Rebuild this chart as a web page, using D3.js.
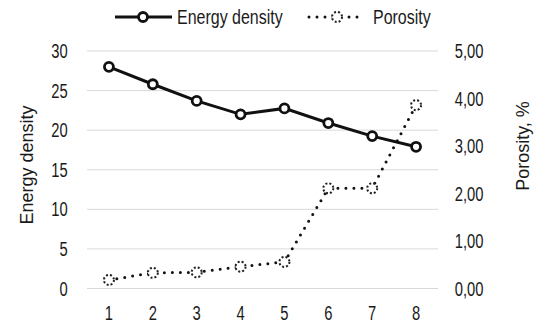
<!DOCTYPE html>
<html>
<head>
<meta charset="utf-8">
<script src="https://cdn.jsdelivr.net/npm/d3@7"></script>
<style>
  body { margin: 0; background: #fff; }
  text { font-family: 'Liberation Sans', Arial, sans-serif; fill: #1a1a1a; }
</style>
</head>
<body>
<svg width="537" height="324"></svg>
<script>
const categories = [1, 2, 3, 4, 5, 6, 7, 8]
const energyDensity = [28.0, 25.8, 23.7, 22.0, 22.75, 20.9, 19.25, 17.9]
const porosity = [0.18, 0.33, 0.34, 0.46, 0.56, 2.11, 2.11, 3.86]
const leftTicks = [0, 5, 10, 15, 20, 25, 30]
const rightTicks = [0, 1, 2, 3, 4, 5]

const svg = d3.select('svg')
const plotLeft = 87, plotRight = 438, plotTop = 51, plotBottom = 288.5
const narrow = 'scale(0.72,1)' // squeeze to look like Arial Narrow
const labelSize = 20.5

const x = d3.scaleBand().domain(categories).range([plotLeft, plotRight])
const yL = d3.scaleLinear().domain([0, 30]).range([plotBottom, plotTop])
const yR = d3.scaleLinear().domain([0, 5]).range([plotBottom, plotTop])
const cx = d => x(d) + x.bandwidth() / 2

// gridlines
svg.append('g')
  .selectAll('line')
  .data(leftTicks)
  .enter()
  .append('line')
  .attr('x1', plotLeft).attr('x2', plotRight)
  .attr('y1', d => yL(d)).attr('y2', d => yL(d))
  .attr('stroke', '#d9d9d9').attr('stroke-width', 1)

// left axis
const axL = svg.append('g')
  .attr('transform', 'translate(72,0)')
  .call(d3.axisLeft(yL).tickValues(leftTicks).tickSize(0).tickPadding(6))
axL.select('.domain').remove()
axL.attr('font-family', null)
axL.selectAll('text').attr('font-size', labelSize).attr('transform', narrow)

// right axis
const axR = svg.append('g')
  .attr('transform', 'translate(450.5,0)')
  .call(d3.axisRight(yR).tickValues(rightTicks).tickSize(0).tickPadding(6)
    .tickFormat(d => d3.format('.2f')(d).replace('.', ',')))
axR.select('.domain').remove()
axR.attr('font-family', null)
axR.selectAll('text').attr('font-size', labelSize).attr('transform', narrow)

// bottom axis
const axB = svg.append('g')
  .attr('transform', `translate(0,${plotBottom})`)
  .call(d3.axisBottom(x).tickSize(0).tickPadding(17))
axB.select('.domain').remove()
axB.attr('font-family', null)
axB.selectAll('text').attr('font-size', labelSize).attr('transform', narrow)

// axis titles
svg.append('text')
  .attr('transform', 'translate(33,165) rotate(-90)')
  .attr('text-anchor', 'middle')
  .attr('font-size', 18)
  .text('Energy density')

svg.append('text')
  .attr('transform', 'translate(529,146) rotate(-90)')
  .attr('text-anchor', 'middle')
  .attr('font-size', 18)
  .text('Porosity, %')

// porosity line
const porLine = d3.line().x((d, i) => cx(categories[i])).y(d => yR(d))
svg.append('path')
  .datum(porosity)
  .attr('d', porLine)
  .attr('fill', 'none')
  .attr('stroke', '#111')
  .attr('stroke-width', 3)
  .attr('stroke-linecap', 'round')
  .attr('stroke-dasharray', '0 8')

svg.append('g')
  .selectAll('circle')
  .data(porosity)
  .enter()
  .append('circle')
  .attr('cx', (d, i) => cx(categories[i]))
  .attr('cy', d => yR(d))
  .attr('r', 5)
  .attr('fill', '#fff')
  .attr('stroke', '#222')
  .attr('stroke-width', 2)
  .attr('stroke-dasharray', '2 2')

// energy line
const enLine = d3.line().x((d, i) => cx(categories[i])).y(d => yL(d))
svg.append('path')
  .datum(energyDensity)
  .attr('d', enLine)
  .attr('fill', 'none')
  .attr('stroke', '#111')
  .attr('stroke-width', 3)

svg.append('g')
  .selectAll('circle')
  .data(energyDensity)
  .enter()
  .append('circle')
  .attr('cx', (d, i) => cx(categories[i]))
  .attr('cy', d => yL(d))
  .attr('r', 4.5)
  .attr('fill', '#fff')
  .attr('stroke', '#111')
  .attr('stroke-width', 2.8)

// legend
const lg = svg.append('g')
lg.append('line').attr('x1', 115).attr('x2', 172).attr('y1', 17).attr('y2', 17)
  .attr('stroke', '#111').attr('stroke-width', 3)
lg.append('circle').attr('cx', 143).attr('cy', 17).attr('r', 4.5)
  .attr('fill', '#fff').attr('stroke', '#111').attr('stroke-width', 2.8)
lg.append('text').attr('transform', 'translate(177,24) scale(0.78,1)')
  .attr('font-size', labelSize).text('Energy density')

lg.append('line').attr('x1', 309).attr('x2', 365).attr('y1', 17).attr('y2', 17)
  .attr('stroke', '#111').attr('stroke-width', 3)
  .attr('stroke-linecap', 'round').attr('stroke-dasharray', '0 8')
lg.append('circle').attr('cx', 337).attr('cy', 17).attr('r', 5)
  .attr('fill', '#fff').attr('stroke', '#222').attr('stroke-width', 2)
  .attr('stroke-dasharray', '2 2')
lg.append('text').attr('transform', 'translate(373,24) scale(0.78,1)')
  .attr('font-size', labelSize).text('Porosity')
</script>
</body>
</html>
